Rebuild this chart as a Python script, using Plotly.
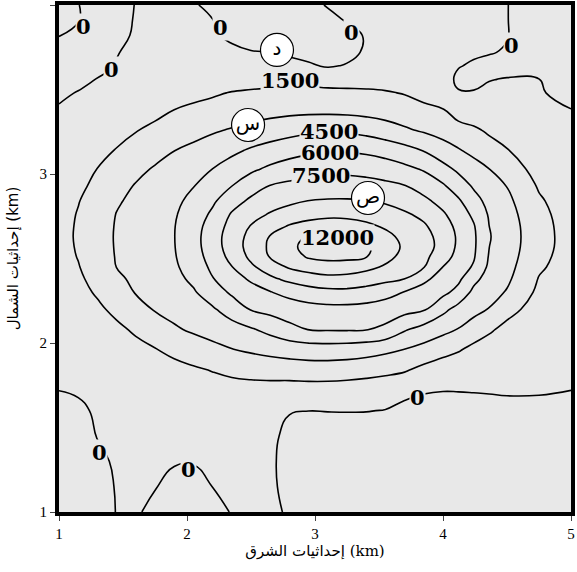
import plotly.graph_objects as go

# Grid coordinates (km)
x_km = [1.0,1.15,1.3,1.45,1.6,1.75,1.9,2.05,2.2,2.35,2.5,2.65,2.8,2.95,3.1,3.25,3.4,3.55,3.7,3.85,4.0,4.12,4.24,4.36,4.5,4.75,5.0]
y_km = [1.0,1.15,1.3,1.45,1.6,1.72,1.84,1.96,2.08,2.2,2.3,2.38,2.45,2.51,2.57,2.63,2.69,2.76,2.84,2.93,3.03,3.14,3.26,3.38,3.48,3.56,3.64,3.72,3.82,3.91,4.0]

# Field values estimated from the contour map (one row per y_km value)
z_values = [
    [-860,-730,-430,30,60,-130,-600,-680,-320,50,140,70,-40,-660,-830,-920,-960,-960,-970,-980,-990,-990,-980,-980,-970,-970,-980],
    [-840,-680,-310,50,100,30,-270,-390,10,100,160,60,-100,-700,-850,-890,-890,-900,-910,-930,-950,-940,-930,-930,-920,-910,-940],
    [-800,-630,-130,80,170,110,70,60,120,190,190,70,-150,-730,-790,-790,-790,-800,-830,-860,-880,-870,-860,-850,-830,-830,-870],
    [-720,-460,30,130,240,250,220,220,280,370,290,130,-150,-590,-580,-570,-580,-600,-670,-730,-760,-750,-730,-710,-670,-660,-750],
    [-470,-140,100,220,350,440,430,470,550,610,510,320,30,10,30,40,30,-30,-280,-440,-500,-490,-430,-370,-270,-250,-510],
    [10,80,180,330,500,650,700,780,910,980,960,890,800,850,850,780,660,490,280,100,30,40,60,80,100,80,0],
    [120,200,320,490,710,940,1100,1310,1560,1800,2000,2160,2260,2320,2310,2230,2090,1900,1640,1090,640,470,390,340,300,210,100],
    [250,350,520,760,1070,1430,1820,2220,2600,2950,3200,3420,3610,3750,3790,3730,3560,3290,2960,2520,2040,1630,1100,800,610,390,220],
    [400,550,810,1200,1720,2260,2820,3210,3550,3930,4340,4930,5600,6040,6120,6130,6070,5680,4640,3960,3380,2940,2320,1710,1100,610,350],
    [570,800,1230,1850,2520,3100,3460,3870,4340,5160,6090,6460,6760,6970,7080,7090,6990,6800,6520,6180,4890,4010,3450,2940,1970,890,500],
    [720,1050,1670,2390,3070,3430,3850,4350,5240,6230,6860,7420,7930,8350,8590,8620,8410,7990,7430,6920,6360,5530,4150,3540,2890,1180,630],
    [840,1260,1970,2770,3250,3650,4110,4780,5930,6830,7730,8710,9380,9830,10070,10010,9740,9380,9020,7810,6920,6310,4910,3930,3260,1430,730],
    [930,1430,2190,3020,3370,3790,4280,5140,6300,7460,8740,9770,10670,11100,11390,11310,10890,10320,9610,9070,7480,6680,5850,4220,3470,1710,810],
    [1000,1550,2320,3080,3440,3880,4390,5350,6570,7950,9310,10590,11330,12150,12370,12330,12050,10940,10070,9350,8180,6970,6130,4400,3600,1910,860],
    [1050,1620,2400,3110,3490,3930,4450,5460,6770,8230,9540,10740,11730,12360,12580,12550,12270,11270,10260,9470,8610,7190,6230,4520,3680,2050,900],
    [1050,1660,2430,3120,3500,3940,4470,5470,6810,8230,9410,10580,11320,12150,12370,12330,12050,10920,10090,9410,8550,7250,6230,4600,3700,2100,880],
    [1020,1640,2400,3100,3480,3920,4450,5390,6650,8020,9090,9870,10640,11070,11360,11280,10860,10310,9710,9200,8190,7110,6120,4510,3670,2060,850],
    [970,1580,2300,3040,3410,3850,4360,5190,6270,7660,8450,9150,9590,9950,10120,10080,9870,9560,9220,8660,7700,6750,5730,4360,3550,1930,790],
    [870,1440,2120,2860,3290,3700,4190,4880,5770,6890,7790,8300,8730,9030,9130,9140,9070,8840,8390,7830,7010,6210,5040,4070,3330,1690,710],
    [730,1170,1860,2500,3090,3470,3920,4450,5190,5980,6810,7550,7830,8020,8130,8140,8040,7840,7560,6900,6170,5270,4310,3610,2960,1350,590],
    [570,870,1520,2070,2640,3130,3510,3960,4510,5120,5740,6260,6670,6960,7120,7120,6980,6720,6350,5860,4960,4210,3550,3010,2250,980,450],
    [400,590,970,1590,2050,2510,2980,3330,3730,4190,4680,5080,5430,5690,5840,5860,5720,5430,4990,4420,3630,3110,2630,2140,1570,660,300],
    [220,350,560,890,1430,1820,2180,2510,2820,3110,3400,3690,3970,4190,4300,4240,4010,3630,3190,2800,2420,2100,1750,1260,820,410,150],
    [80,160,290,460,710,1090,1500,1760,1990,2190,2360,2490,2580,2630,2620,2570,2460,2310,2110,1860,1580,740,510,470,400,220,20],
    [-150,40,130,230,420,690,960,1110,1320,1570,1710,1810,1870,1900,1890,1840,1750,1620,1420,1000,460,40,70,150,170,100,-360],
    [-460,-220,30,100,290,510,720,730,750,800,860,980,1070,1040,830,810,890,910,900,610,250,-110,-270,-30,40,10,-540],
    [-570,-500,-280,30,200,390,540,500,440,380,310,310,250,120,-100,70,370,520,620,460,230,30,-70,-230,-280,-390,-660],
    [-320,-520,-540,-30,150,300,420,340,250,150,50,10,-130,-310,-450,-280,130,330,470,400,220,120,80,50,-70,-600,-750],
    [20,-180,-540,-220,100,230,300,220,100,-140,-400,-470,-530,-600,-510,-240,60,240,360,350,240,190,150,120,40,-700,-820],
    [70,30,-500,-340,70,180,230,130,20,-460,-620,-660,-690,-460,-200,50,120,220,320,340,260,220,190,140,30,-690,-870],
    [100,30,-480,-430,40,150,190,90,-230,-610,-740,-780,-650,-200,50,120,170,220,300,330,280,250,210,130,30,-690,-900],
]

contour_start = 0
contour_end = 12000
contour_step = 1500

# Contour labels shown on the map
label_text = ['0','0','0','0','0','0','0','0','1500','4500','6000','7500','12000']
label_x = [1.1875,1.414,2.258,3.289,4.539,1.3125,2.008,3.797,2.805,3.109,3.117,3.047,3.172]
label_y = [3.87,3.621,3.864,3.84,3.763,1.355,1.249,1.675,3.556,3.254,3.13,2.994,2.627]

# Marked points
marker_text = ['د','س','ص']
marker_x = [2.703,2.477,3.414]
marker_y = [3.734,3.29,2.858]

x_ticks = [1,2,3,4,5]
y_ticks = [1,2,3,4]
x_title = 'إحداثيات الشرق (km)'
y_title = 'إحداثيات الشمال (km)'

fig = go.Figure()
fig.add_trace(go.Contour(x=x_km, y=y_km, z=z_values,
    contours=dict(start=contour_start, end=contour_end, size=contour_step, coloring='none', showlabels=False),
    line=dict(color='black', width=1.6, smoothing=1.3), showscale=False, hoverinfo='skip'))
fig.add_trace(go.Scatter(x=marker_x, y=marker_y, mode='markers+text', text=marker_text,
    textposition='middle center',
    marker=dict(size=33, color='white', line=dict(color='black', width=1.2)),
    textfont=dict(size=20, color='black', family='DejaVu Sans'), hoverinfo='skip'))
for t, lx, ly in zip(label_text, label_x, label_y):
    fig.add_annotation(x=lx, y=ly, text='<b>%s</b>' % t, showarrow=False, bgcolor='#e8e8e8',
        borderpad=0, font=dict(family='DejaVu Serif', size=21, color='black'))
fig.update_layout(width=577, height=572, margin=dict(l=59, r=6, t=5, b=60),
    paper_bgcolor='white', plot_bgcolor='#e8e8e8', showlegend=False,
    xaxis=dict(range=[1,5], tickvals=x_ticks, ticks='outside', ticklen=5, tickwidth=1,
        showline=True, linewidth=4, linecolor='black', mirror=True, showgrid=False, zeroline=False,
        automargin=False,
        tickfont=dict(family='Liberation Serif', size=15, color='black'),
        title=dict(text=x_title, font=dict(family='DejaVu Serif, DejaVu Sans', size=15, color='black'), standoff=4)),
    yaxis=dict(range=[1,4], tickvals=y_ticks, ticks='outside', ticklen=5, tickwidth=1,
        showline=True, linewidth=4, linecolor='black', mirror=True, showgrid=False, zeroline=False,
        automargin=False,
        tickfont=dict(family='Liberation Serif', size=15, color='black'),
        title=dict(text=y_title, font=dict(family='DejaVu Sans', size=15, color='black'), standoff=18)))
fig.write_html("out.html", config={'displayModeBar': False},
               post_script="document.body.style.margin='0px';")
